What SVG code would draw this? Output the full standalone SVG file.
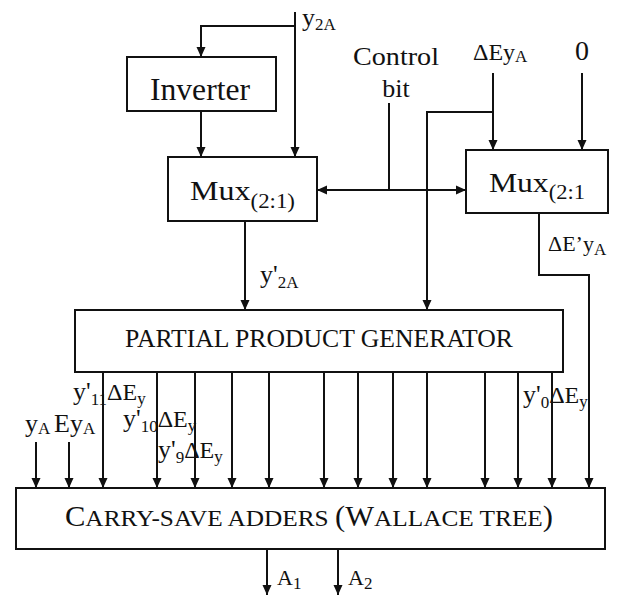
<svg xmlns="http://www.w3.org/2000/svg" width="618" height="596" viewBox="0 0 618 596">
<style>
text{font-family:"Liberation Serif","Times New Roman",serif;fill:#111}
.box{fill:#fff;stroke:#111;stroke-width:2}
.w{fill:none;stroke:#111;stroke-width:2}
.lbl{font-size:26px}
.sub{font-size:17px}
</style>
<defs>
<marker id="ah" markerUnits="userSpaceOnUse" markerWidth="10" markerHeight="10" refX="10" refY="5" orient="auto">
<path d="M0,0.5 L10,5 L0,9.5 z" fill="#111"/>
</marker>
</defs>
<rect width="618" height="596" fill="#fff"/>

<g id="connectors">
<path class="w" d="M295,12 V157" marker-end="url(#ah)"/>
<path class="w" d="M295,26 H201 V57" marker-end="url(#ah)"/>
<path class="w" d="M201,111 V157" marker-end="url(#ah)"/>
<path class="w" d="M245,221 V310" marker-end="url(#ah)"/>
<path class="w" d="M389,190 H317" marker-end="url(#ah)"/>
<path class="w" d="M389,190 H466" marker-end="url(#ah)"/>
<path class="w" d="M389,103 V190"/>
<path class="w" d="M493,73 V150" marker-end="url(#ah)"/>
<path class="w" d="M493,112 H427 V310" marker-end="url(#ah)"/>
<path class="w" d="M582,73 V150" marker-end="url(#ah)"/>
<path class="w" d="M539,213 V275 H589 V488" marker-end="url(#ah)"/>
<path class="w" d="M36,442 V488" marker-end="url(#ah)"/>
<path class="w" d="M69,442 V488" marker-end="url(#ah)"/>
<path class="w" d="M103,372 V488" marker-end="url(#ah)"/>
<path class="w" d="M157,372 V488" marker-end="url(#ah)"/>
<path class="w" d="M195,372 V488" marker-end="url(#ah)"/>
<path class="w" d="M232,372 V488" marker-end="url(#ah)"/>
<path class="w" d="M269,372 V488" marker-end="url(#ah)"/>
<path class="w" d="M324,372 V488" marker-end="url(#ah)"/>
<path class="w" d="M358,372 V488" marker-end="url(#ah)"/>
<path class="w" d="M393,372 V488" marker-end="url(#ah)"/>
<path class="w" d="M427,372 V488" marker-end="url(#ah)"/>
<path class="w" d="M485,372 V488" marker-end="url(#ah)"/>
<path class="w" d="M518,372 V488" marker-end="url(#ah)"/>
<path class="w" d="M552,372 V488" marker-end="url(#ah)"/>
<path class="w" d="M267,549 V595" marker-end="url(#ah)"/>
<path class="w" d="M338,549 V595" marker-end="url(#ah)"/>
</g>

<g id="inverter">
<rect class="box" x="127" y="57" width="149" height="54"/>
<text x="150" y="100" font-size="32" textLength="100" lengthAdjust="spacingAndGlyphs">Inverter</text>
</g>

<g id="mux-left">
<rect class="box" x="168" y="157" width="149" height="64"/>
<text x="190" y="200" font-size="28" textLength="105" lengthAdjust="spacingAndGlyphs">Mux<tspan font-size="20" dy="8">(2:1)</tspan></text>
</g>

<g id="mux-right">
<rect class="box" x="466" y="150" width="142" height="63"/>
<text x="489" y="192" font-size="28" textLength="96" lengthAdjust="spacingAndGlyphs">Mux<tspan font-size="20" dy="7">(2:1</tspan></text>
</g>

<g id="ppg">
<rect class="box" x="75" y="310" width="488" height="62"/>
<text x="125" y="347" font-size="25" textLength="388" lengthAdjust="spacingAndGlyphs">PARTIAL PRODUCT GENERATOR</text>
</g>

<g id="csa">
<rect class="box" x="16" y="488" width="589" height="61"/>
<text x="65" y="526" font-size="24" textLength="488" lengthAdjust="spacingAndGlyphs"><tspan font-size="29">C</tspan>ARRY-SAVE ADDERS <tspan font-size="29">(W</tspan>ALLACE TREE<tspan font-size="29">)</tspan></text>
</g>

<g id="labels">
<text x="302" y="26" class="lbl">y<tspan class="sub" dy="4">2A</tspan></text>
<text x="396" y="65" font-size="26" text-anchor="middle" textLength="86" lengthAdjust="spacingAndGlyphs">Control</text>
<text x="396" y="97" font-size="26" text-anchor="middle">bit</text>
<text x="473" y="60" font-size="24">ΔEy<tspan class="sub" dy="2">A</tspan></text>
<text x="582" y="60" font-size="28" text-anchor="middle">0</text>
<text x="260" y="283" class="lbl">y'<tspan class="sub" dy="5">2A</tspan></text>
<text x="548" y="251" font-size="22">ΔE’y<tspan class="sub" dy="4">A</tspan></text>
<text x="73" y="400" class="lbl">y'<tspan class="sub" dy="5">11</tspan><tspan font-size="24" dy="-5">ΔE</tspan><tspan class="sub" dy="4">y</tspan></text>
<text x="123" y="427" class="lbl">y'<tspan class="sub" dy="5">10</tspan><tspan font-size="24" dy="-5">ΔE</tspan><tspan class="sub" dy="4">y</tspan></text>
<text x="158" y="458" class="lbl">y'<tspan class="sub" dy="5">9</tspan><tspan font-size="24" dy="-5">ΔE</tspan><tspan class="sub" dy="4">y</tspan></text>
<text x="523" y="403" class="lbl">y'<tspan class="sub" dy="5">0</tspan><tspan font-size="24" dy="-5">ΔE</tspan><tspan class="sub" dy="4">y</tspan></text>
<text x="25" y="432" class="lbl">y<tspan class="sub" dy="2">A</tspan></text>
<text x="54" y="432" class="lbl">Ey<tspan class="sub" dy="2">A</tspan></text>
<text x="277" y="585" font-size="22">A<tspan class="sub" dy="4">1</tspan></text>
<text x="348" y="585" font-size="22">A<tspan class="sub" dy="4">2</tspan></text>
</g>
</svg>
